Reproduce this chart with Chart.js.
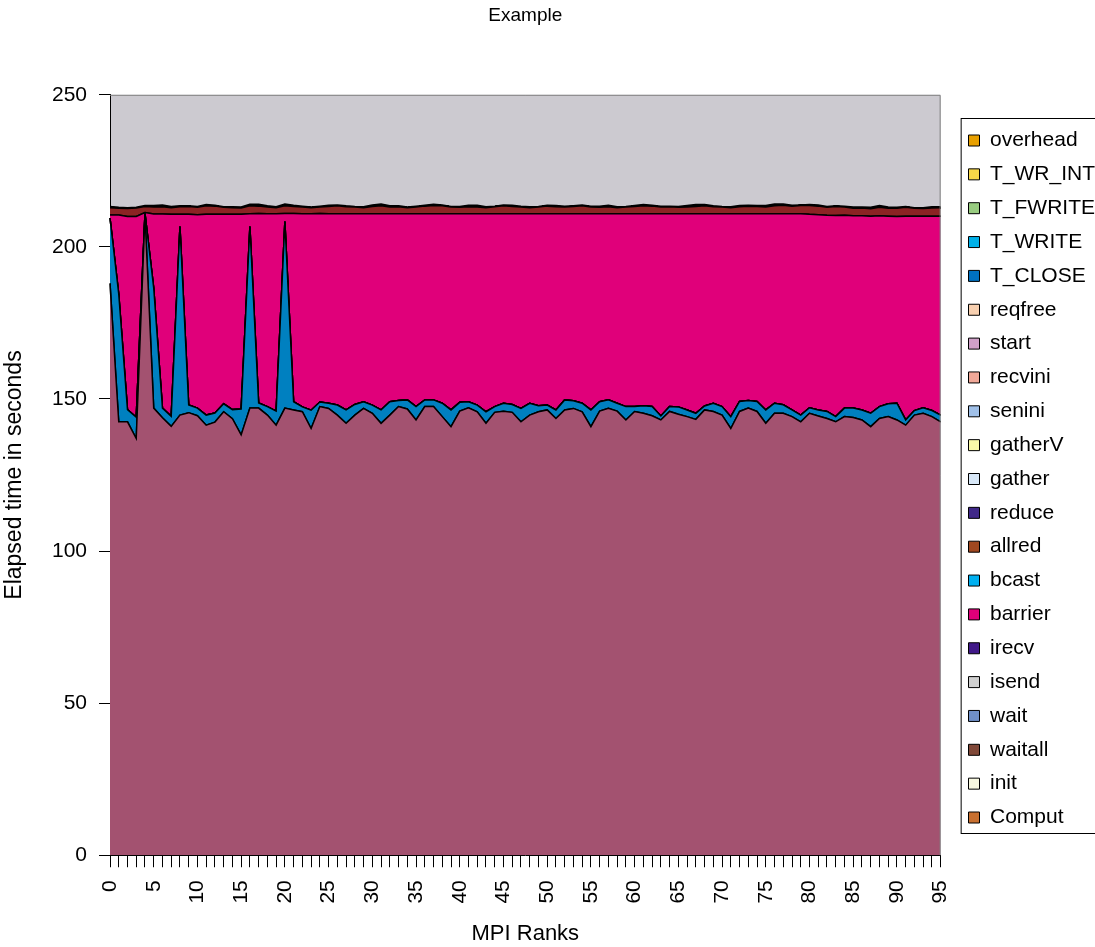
<!DOCTYPE html>
<html>
<head>
<meta charset="utf-8">
<script src="https://cdn.jsdelivr.net/npm/chart.js@4.4.1/dist/chart.umd.min.js"></script>
<style>
  html, body { margin: 0; padding: 0; background: #fff; overflow: hidden; }
  #wrap { width: 1105px; height: 947px; }
</style>
</head>
<body>
<div id="wrap"><canvas id="mpiChart" width="1105" height="947"></canvas></div>
<script>
// MPI ranks on the x axis
const ranks = Array.from({ length: 96 }, (_, i) => String(i));

// series, bottom of the stack first (legend shows them reversed)
const seriesNames = ['Comput', 'init', 'waitall', 'wait', 'isend', 'irecv', 'barrier', 'bcast',
  'allred', 'reduce', 'gather', 'gatherV', 'senini', 'recvini', 'start', 'reqfree',
  'T_CLOSE', 'T_WRITE', 'T_FWRITE', 'T_WR_INT', 'overhead'];

const comput = [
  188, 142.5, 142.5, 137, 210.5, 147, 143.8, 141, 144.7, 145.5,
  144.5, 141.4, 142.4, 145.8, 143.5, 138.2, 147, 147, 144.7, 141.4,
  147, 146.4, 145.8, 140.3, 147.5, 146.9, 144.7, 142, 144.7, 146.9,
  145.3, 142, 144.7, 147.5, 146.7, 143.1, 147.5, 147.5, 144.2, 140.9,
  146, 147.1, 145.8, 142, 145.6, 146, 145.6, 142.5, 144.7, 145.8,
  146.4, 143.6, 146.4, 146.9, 145.8, 140.9, 146, 146.9, 146, 143.1,
  145.9, 145.3, 144.5, 143.1, 145.9, 145, 144.2, 143.3, 146.4, 145.9,
  144.7, 140.3, 145.9, 147, 145.9, 142, 145.3, 145.3, 144.2, 142.5,
  145.3, 144.4, 143.6, 142.5, 144.2, 143.9, 143.1, 140.9, 143.6, 144.2,
  143.1, 141.4, 144.7, 145.3, 144.2, 142.5];

const waitall = [
  21.5, 42, 4, 7, 0.5, 39.5, 3.2, 3.3, 62, 2.5,
  2.5, 3.3, 3, 2.6, 3, 8.5, 59.7, 1.7, 2.8, 4.6,
  61.3, 2.7, 1.6, 6, 1.5, 1.7, 3.3, 4.4, 3.5, 2.2,
  2.7, 4.4, 4.4, 2, 3, 4.4, 2.2, 2.2, 4.4, 5.5,
  2.9, 2, 2.2, 3.8, 1.9, 2.6, 2.6, 4.4, 3.9, 2,
  1.6, 2.8, 3.3, 2.5, 2.8, 5.5, 3.1, 2.8, 2.6, 4.4,
  1.6, 2.5, 3, 1.3, 1.6, 2.4, 2.2, 2, 1.3, 2.7,
  2.8, 3.9, 3.3, 2.5, 3.3, 4.4, 3.3, 2.8, 2.2, 2.2,
  1.8, 2, 2.3, 1.7, 2.8, 3.1, 3.3, 4.4, 3.9, 4.2,
  5.5, 1.7, 1.5, 1.8, 2, 2.2];

const barrier = [
  1, 26, 63.5, 66, 0.3, 24.3, 63.8, 66.4, 4, 62.7,
  63.6, 66, 65.3, 62.3, 64.2, 64, 4.2, 62.3, 63.4, 64.9,
  2.7, 61.9, 63.5, 64.6, 62, 62.3, 62.9, 64.5, 62.7, 61.8,
  62.9, 64.5, 61.8, 61.4, 61.2, 63.4, 61.2, 61.2, 62.3, 64.5,
  62, 61.8, 62.9, 65.1, 63.4, 62.3, 62.7, 64, 62.3, 63.1,
  62.9, 64.5, 61.2, 61.5, 62.3, 64.5, 61.8, 61.2, 62.3, 63.4,
  63.4, 63.1, 63.4, 66.5, 63.4, 63.5, 64.5, 65.6, 63.2, 62.3,
  63.4, 66.7, 61.7, 61.4, 61.7, 64.5, 62.3, 62.8, 64.5, 66.2,
  63.6, 64.2, 64.5, 66.1, 63.4, 63.2, 63.8, 64.8, 62.7, 61.7,
  61.4, 67, 63.9, 63, 63.9, 65.4];

const allred = [
  2.4, 2.2, 2.6, 2.8, 2.0, 2.3, 2.4, 2.2, 2.5, 2.6,
  2.4, 2.8, 2.7, 2.3, 2.2, 2.1, 2.6, 2.4, 2.2, 2.0,
  2.5, 2.3, 2.2, 2.0, 2.1, 2.4, 2.6, 2.3, 2.2, 2.0,
  2.4, 2.6, 2.2, 2.3, 2.0, 2.2, 2.5, 2.7, 2.6, 2.2,
  2.1, 2.3, 2.2, 2.0, 2.3, 2.6, 2.4, 2.2, 2.0, 2.2,
  2.5, 2.3, 2.2, 2.4, 2.6, 2.2, 2.1, 2.3, 2.0, 2.2,
  2.4, 2.6, 2.5, 2.2, 2.3, 2.1, 2.2, 2.4, 2.6, 2.3,
  2.2, 2.0, 2.3, 2.5, 2.4, 2.2, 2.6, 2.8, 2.5, 2.7,
  2.9, 2.8, 2.6, 3.0, 2.7, 2.5, 2.6, 2.4, 2.8, 2.6,
  2.7, 2.9, 2.6, 2.5, 2.7, 2.8];

const overhead = [
  0.4, 0.3, 0.3, 0.2, 0.3, 0.5, 0.6, 0.4, 0.3, 0.2,
  0.3, 0.4, 0.3, 0.2, 0.3, 0.3, 0.5, 0.6, 0.4, 0.3,
  0.6, 0.4, 0.3, 0.2, 0.3, 0.4, 0.3, 0.3, 0.2, 0.3,
  0.5, 0.6, 0.4, 0.3, 0.2, 0.3, 0.3, 0.4, 0.3, 0.2,
  0.3, 0.5, 0.6, 0.3, 0.2, 0.3, 0.4, 0.3, 0.3, 0.2,
  0.3, 0.4, 0.3, 0.2, 0.3, 0.3, 0.4, 0.5, 0.3, 0.2,
  0.3, 0.4, 0.3, 0.3, 0.2, 0.3, 0.5, 0.6, 0.4, 0.3,
  0.2, 0.3, 0.4, 0.3, 0.3, 0.5, 0.6, 0.4, 0.3, 0.2,
  0.3, 0.4, 0.3, 0.2, 0.3, 0.4, 0.3, 0.5, 0.6, 0.4,
  0.3, 0.3, 0.2, 0.3, 0.4, 0.3];

// all other counters are zero on every rank
const zeros = new Array(96).fill(0);

const seriesValues = {
  Comput: comput, waitall: waitall, barrier: barrier, allred: allred, overhead: overhead
};

// colours used for the legend swatches
const legendColors = {
  Comput: '#C87030', init: '#F8F8E0', waitall: '#804838', wait: '#7090C8', isend: '#D0D0D0',
  irecv: '#401888', barrier: '#E0007A', bcast: '#00B0F0', allred: '#A04820', reduce: '#402888',
  gather: '#D8E8F8', gatherV: '#F8F8A8', senini: '#A0C0E8', recvini: '#F0A898', start: '#D0A0C8',
  reqfree: '#F8D0B0', T_CLOSE: '#0070C0', T_WRITE: '#00B0E8', T_FWRITE: '#98CC80',
  T_WR_INT: '#F8D848', overhead: '#E8A000'
};

// colours of the filled areas in the plot
const areaColors = {
  Comput: '#A35270', waitall: '#0080C0', barrier: '#E0007A', allred: '#8B2323', overhead: '#000000'
};

const FONT = 'Liberation Sans, Arial, sans-serif';

const datasets = seriesNames.map((name, i) => ({
  label: name,
  data: seriesValues[name] || zeros,
  backgroundColor: areaColors[name] || legendColors[name],
  borderColor: '#000',
  borderWidth: 1.5,
  pointRadius: 0,
  pointHoverRadius: 0,
  tension: 0,
  fill: i === 0 ? 'origin' : '-1'
}));

// gray plot area + frame, and the box round the legend
const frame = {
  id: 'frame',
  beforeDraw(chart) {
    const { ctx, chartArea: a } = chart;
    ctx.save();
    ctx.fillStyle = '#CCCAD0';
    ctx.fillRect(a.left, a.top, a.width, a.height);
    ctx.restore();
  },
  afterDraw(chart) {
    const { ctx, chartArea: a } = chart;
    ctx.save();
    ctx.strokeStyle = '#808080';
    ctx.lineWidth = 1;
    ctx.beginPath();
    ctx.moveTo(a.left, a.top + 0.5);
    ctx.lineTo(a.right - 0.5, a.top + 0.5);
    ctx.lineTo(a.right - 0.5, a.bottom);
    ctx.stroke();
    const lg = chart.legend;
    const hb = lg.legendHitBoxes;
    if (hb && hb.length) {
      const top = hb[0].top - 12;
      const last = hb[hb.length - 1];
      const bottom = last.top + last.height + 5;
      ctx.strokeStyle = '#000';
      ctx.strokeRect(lg.left + 5.5, Math.round(top) + 0.5, 300, Math.round(bottom - top));
    }
    ctx.restore();
  }
};

// nudge the legend into the right padding, as in the original
const legendShift = {
  id: 'legendShift',
  afterLayout(chart) {
    const lg = chart.legend;
    lg.left += 15; lg.right += 15;
    lg.top += 5.5; lg.bottom += 5.5;
  }
};

new Chart(document.getElementById('mpiChart'), {
  type: 'line',
  data: { labels: ranks, datasets: datasets },
  plugins: [frame, legendShift],
  options: {
    responsive: false,
    animation: false,
    layout: { padding: { left: 0, right: 15, top: 0, bottom: 0 } },
    plugins: {
      title: {
        display: true,
        text: 'Example',
        fullSize: false,
        color: '#000',
        font: { family: FONT, size: 19, weight: 'normal' },
        padding: { top: 4, bottom: 68 }
      },
      legend: {
        position: 'right',
        reverse: true,
        labels: {
          color: '#000',
          font: { family: FONT, size: 21 },
          boxWidth: 11,
          boxHeight: 11,
          padding: 12.85,
          generateLabels: chart => chart.data.datasets.map((ds, i) => ({
            text: ds.label,
            fillStyle: legendColors[ds.label],
            strokeStyle: '#000',
            lineWidth: 1,
            hidden: false,
            datasetIndex: i
          }))
        }
      },
      tooltip: { enabled: false }
    },
    scales: {
      x: {
        offset: false,
        grid: { display: true, drawOnChartArea: false, drawTicks: true, tickLength: 12, color: '#000' },
        border: { display: true, color: '#000', width: 1 },
        ticks: {
          autoSkip: false,
          minRotation: 90,
          maxRotation: 90,
          padding: 13,
          color: '#000',
          font: { family: FONT, size: 21 },
          callback: function (v, i) { return i % 5 === 0 ? this.getLabelForValue(v) : ''; }
        },
        title: {
          display: true,
          text: 'MPI Ranks',
          color: '#000',
          font: { family: FONT, size: 22 },
          padding: { top: 4, bottom: 0 }
        }
      },
      y: {
        stacked: true,
        min: 0,
        max: 250,
        grid: { display: true, drawOnChartArea: false, drawTicks: true, tickLength: 11, color: '#000' },
        border: { display: true, color: '#000', width: 1 },
        ticks: {
          stepSize: 50,
          padding: 12,
          color: '#000',
          font: { family: FONT, size: 21 }
        },
        title: {
          display: true,
          text: 'Elapsed time in seconds',
          color: '#000',
          font: { family: FONT, size: 23 },
          padding: { top: 1, bottom: 0 }
        },
        afterFit(scale) { scale.width = 110; }
      }
    }
  }
});
</script>
</body>
</html>
